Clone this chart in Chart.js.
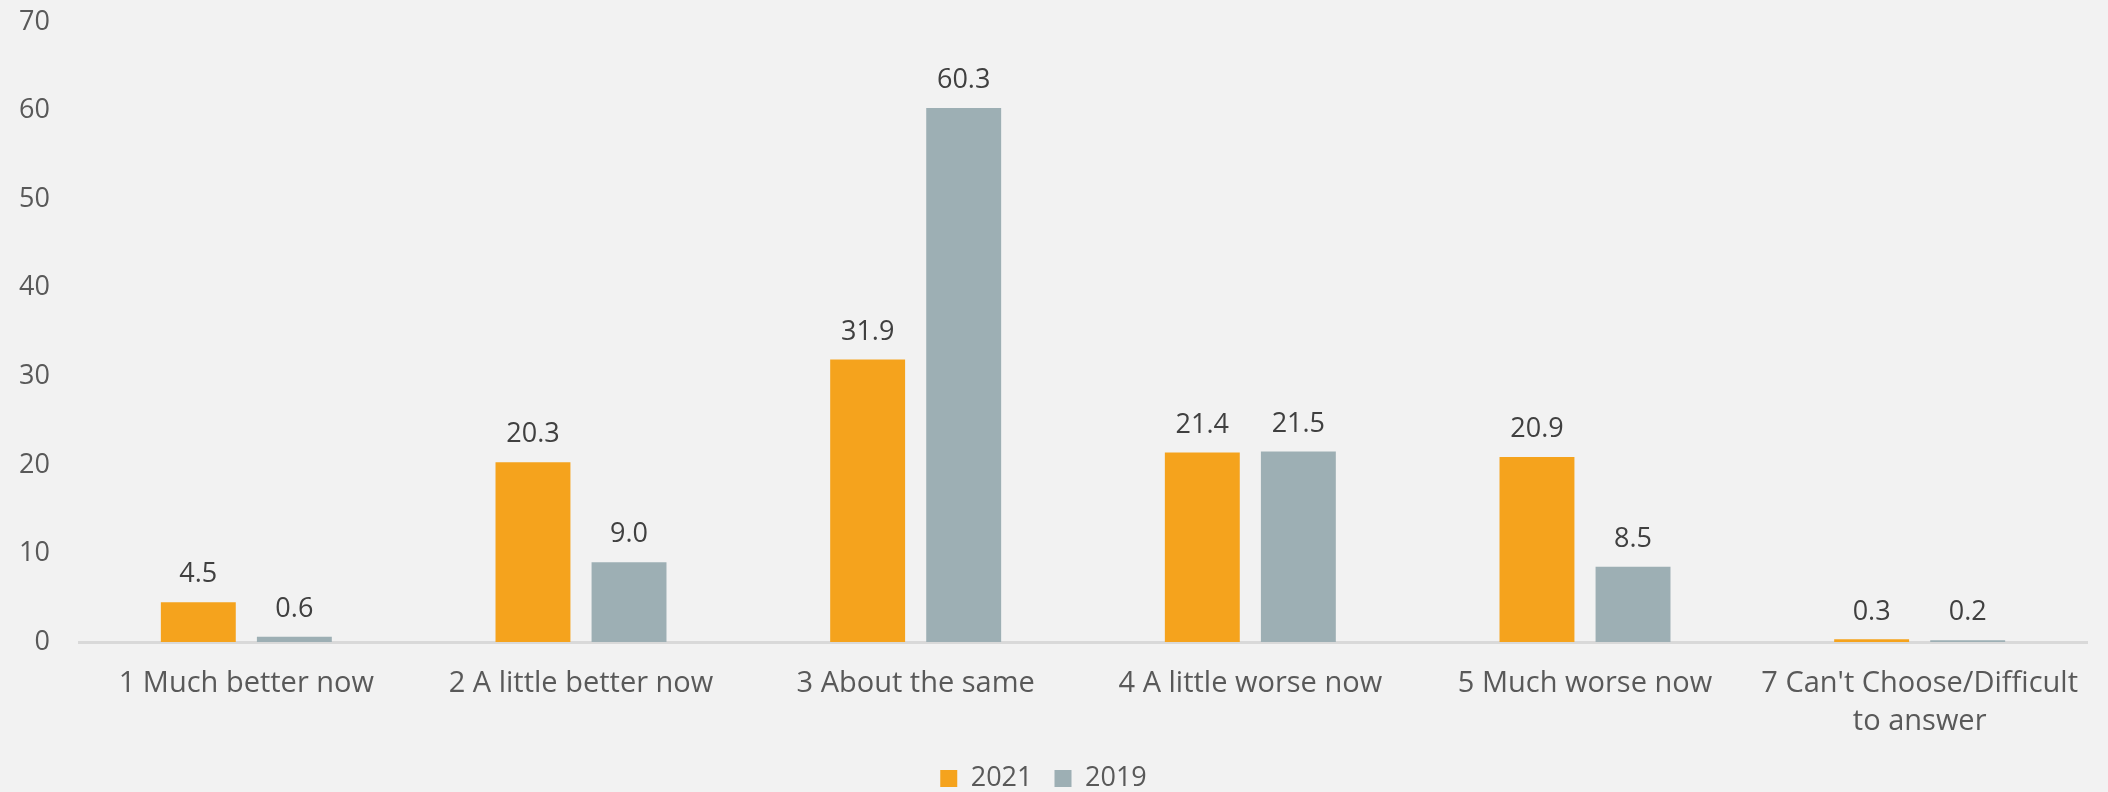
<!DOCTYPE html>
<html>
<head>
<meta charset="utf-8">
<script src="https://cdn.jsdelivr.net/npm/chart.js@4.4.1/dist/chart.umd.min.js"></script>
<style>
  html, body { margin: 0; padding: 0; background: #f2f2f2; }
  #wrap { width: 2108px; height: 792px; }
</style>
</head>
<body>
<div id="wrap"><canvas id="barChart" width="2108" height="792"></canvas></div>
<script>
// chart data
var categories = [
  '1 Much better now',
  '2 A little better now',
  '3 About the same',
  '4 A little worse now',
  '5 Much worse now',
  ["7 Can't Choose/Difficult", 'to answer']
];
var values2021 = [4.5, 20.3, 31.9, 21.4, 20.9, 0.3];
var values2019 = [0.6, 9.0, 60.3, 21.5, 8.5, 0.2];
var yTicks = [0, 10, 20, 30, 40, 50, 60, 70];

document.addEventListener('DOMContentLoaded', function () {
  Chart.defaults.font.family = '"Open Sans", Lato, sans-serif';
  Chart.defaults.color = '#595959';

  // draws the value above each bar
  var barValues = {
    id: 'barValues',
    afterDatasetsDraw: function (chart) {
      var ctx = chart.ctx;
      ctx.save();
      ctx.font = '27px "Open Sans", Lato, sans-serif';
      ctx.fillStyle = '#404040';
      ctx.textAlign = 'center';
      ctx.textBaseline = 'bottom';
      chart.data.datasets.forEach(function (ds, i) {
        chart.getDatasetMeta(i).data.forEach(function (bar, j) {
          ctx.fillText(ds.data[j].toFixed(1), bar.x, bar.y - 14);
        });
      });
      ctx.restore();
    }
  };

  var ctx = document.getElementById('barChart').getContext('2d');
  new Chart(ctx, {
    type: 'bar',
    data: {
      labels: categories,
      datasets: [
        { label: '2021', data: values2021, backgroundColor: '#f5a31d', categoryPercentage: 0.574, barPercentage: 0.78 },
        { label: '2019', data: values2019, backgroundColor: '#9dafb4', categoryPercentage: 0.574, barPercentage: 0.78 }
      ]
    },
    options: {
      responsive: false,
      animation: false,
      layout: { padding: { top: 0, right: 21, left: 0, bottom: -10 } },
      scales: {
        x: {
          grid: { display: false, drawTicks: false },
          border: { color: '#d9d9d9', width: 3 },
          ticks: { font: { size: 29, lineHeight: 1.3 }, color: '#595959', padding: 23, maxRotation: 0, autoSkip: false },
          afterFit: function (axis) { axis.height = 101; }
        },
        y: {
          min: 0,
          max: 70,
          afterBuildTicks: function (axis) {
            axis.ticks = yTicks.map(function (v) { return { value: v }; });
          },
          afterFit: function (axis) {
            axis.width = 79;
            axis.paddingTop = 22;
            axis.paddingBottom = 16;
          },
          grid: { display: false, drawTicks: false },
          border: { display: false },
          ticks: { font: { size: 27 }, color: '#595959', padding: 29 }
        }
      },
      plugins: {
        legend: {
          position: 'bottom',
          labels: { boxWidth: 17, boxHeight: 17, font: { size: 27 }, color: '#595959', padding: 22 }
        },
        tooltip: { enabled: false }
      }
    },
    plugins: [barValues]
  });
});
</script>
</body>
</html>
